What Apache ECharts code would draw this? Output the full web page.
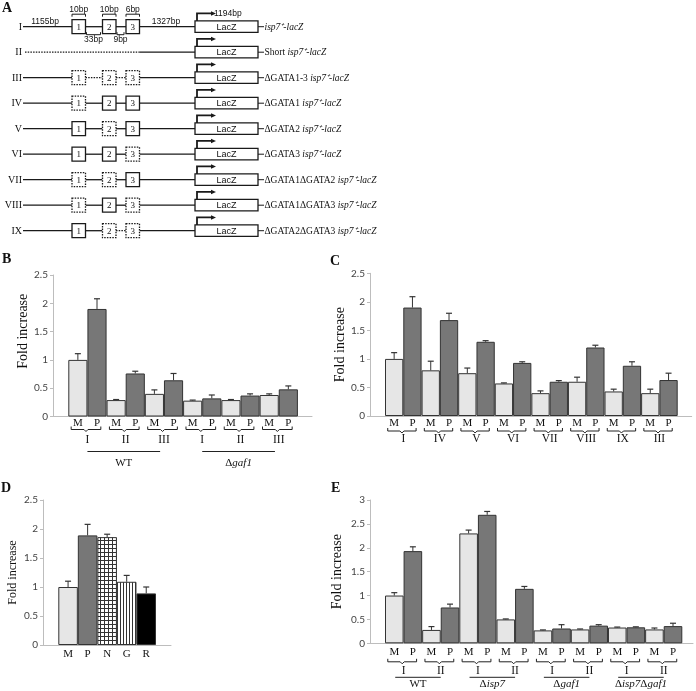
<!DOCTYPE html>
<html><head><meta charset="utf-8">
<script src="https://cdn.jsdelivr.net/npm/echarts@6/dist/echarts.min.js"></script>
<style>html,body{margin:0;padding:0;background:#fff}#c{width:696px;height:691px}</style>
</head><body><div id="c"></div>
<script>
// ---------------- DATA ----------------
// Panel A constructs
const constructNames = ['I','II','III','IV','V','VI','VII','VIII','IX'];
const constructBoxes = ['111','','000','011','101','110','001','010','100']; // 1 = GATA site present, 0 = deleted
const constructLinks = ['ss','','dd','ss','ss','ss','ss','ss','sd'];          // s = solid, d = dotted
const constructPrefix = ['','Short ','ΔGATA1-3 ','ΔGATA1 ','ΔGATA2 ','ΔGATA3 ','ΔGATA1ΔGATA2 ','ΔGATA1ΔGATA3 ','ΔGATA2ΔGATA3 '];
const reporterName = 'isp7⁺-lacZ';
const segmentLabels = ['1155bp','10bp','33bp','10bp','9bp','6bp','1327bp'];
const tssLabel = '1194bp';

// Panel B
const bPairs = ['I','II','III','I','II','III'];
const bStrains = ['WT','Δgaf1'];
const bStrainPairs = [[0,2],[3,5]];
const bM = [1.00,0.29,0.40,0.28,0.29,0.38];
const bMErr = [0.11,0.01,0.07,0.01,0.01,0.02];
const bP = [1.90,0.76,0.64,0.32,0.37,0.48];
const bPErr = [0.18,0.04,0.12,0.06,0.03,0.06];

// Panel C
const cPairs = ['I','IV','V','VI','VII','VIII','IX','III'];
const cM = [1.00,0.80,0.75,0.57,0.40,0.60,0.43,0.40];
const cMErr = [0.11,0.16,0.09,0.01,0.04,0.08,0.04,0.07];
const cP = [1.90,1.68,1.30,0.93,0.60,1.20,0.88,0.63];
const cPErr = [0.19,0.12,0.02,0.02,0.02,0.04,0.07,0.12];

// Panel D
const dCats = ['M','P','N','G','R'];
const dVals = [1.00,1.89,1.86,1.09,0.89];
const dErr = [0.10,0.19,0.05,0.11,0.11];

// Panel E
const ePairs = ['I','II','I','II','I','II','I','II'];
const eStrains = ['WT','Δisp7','Δgaf1','Δisp7Δgaf1'];
const eStrainPairs = [[0,1],[2,3],[4,5],[6,7]];
const eM = [1.00,0.28,2.30,0.50,0.27,0.29,0.33,0.29];
const eMErr = [0.06,0.07,0.07,0.01,0.01,0.01,0.01,0.03];
const eP = [1.93,0.75,2.69,1.14,0.31,0.37,0.335,0.36];
const ePErr = [0.09,0.07,0.07,0.05,0.08,0.02,0.01,0.06];

const yTicksB = 2.5, yTicksE = 3;

// ---------------- STYLE ----------------
const SERIF = '"Liberation Serif", "Times New Roman", serif';
const SANS = '"Liberation Sans", Arial, sans-serif';
const TICK = 'Lato, "Open Sans", sans-serif';
const LIGHT = '#e6e6e6', DARK = '#777777', INK = '#1a1a1a', AXIS = '#bdbdbd';

function makePattern(kind){
  const cv = document.createElement('canvas');
  const s = kind === 'grid' ? 4 : 3;
  cv.width = s; cv.height = s;
  const ctx = cv.getContext('2d');
  ctx.fillStyle = '#fff'; ctx.fillRect(0,0,s,s);
  ctx.fillStyle = '#333';
  ctx.fillRect(0,0,1,s);
  if (kind === 'grid') ctx.fillRect(0,0,s,1);
  return {image: cv, repeat: 'repeat'};
}

// ---------------- PANEL A (diagram) ----------------
const G = [];
function gLine(x1,y1,x2,y2,dash,w){
  G.push({type:'line', silent:true, shape:{x1,y1,x2,y2}, style:{stroke:INK, lineWidth:w||1.3, lineDash: dash?[1.5,1.2]:null}});
}
function gPoly(points,w){
  G.push({type:'polyline', silent:true, shape:{points}, style:{stroke:INK, fill:null, lineWidth:w||1}});
}
function gRect(x,y,w,h,dash){
  G.push({type:'rect', silent:true, shape:{x,y,width:w,height:h}, style:{fill:'#fff', stroke:INK, lineWidth:1.3, lineDash: dash?[1.5,1.2]:null}});
}
function gText(t,x,y,font,align,extra){
  G.push({type:'text', silent:true, style:Object.assign({text:t, x, y, font, align:align||'center', textAlign:align||'center', verticalAlign:'middle', textVerticalAlign:'middle', fill:'#111'}, extra||{})});
}

const rowY0 = 26.7, rowStep = 25.5, xStart = 23, lacX = 195, lacW = 63, lacH = 11.5;
const boxX = [72, 102.5, 126], boxW = 13.5, boxH = 14;

constructNames.forEach((name, r) => {
  const y = rowY0 + r*rowStep;
  gText(name, 22, y+0.5, '10px ' + SERIF, 'right');
  const boxes = constructBoxes[r];
  if (!boxes) {
    gLine(25, y, 140, y, true);
    gLine(140, y, lacX, y, false);
  } else {
    const links = constructLinks[r];
    gLine(xStart, y, boxX[0], y, false);
    gLine(boxX[0]+boxW, y, boxX[1], y, links[0]==='d');
    gLine(boxX[1]+boxW, y, boxX[2], y, links[1]==='d');
    gLine(boxX[2]+boxW, y, lacX, y, false);
    for (let b=0;b<3;b++){
      gRect(boxX[b], y-boxH/2, boxW, boxH, boxes[b]==='0');
      gText(String(b+1), boxX[b]+boxW/2, y+0.5, '9px ' + SERIF);
    }
  }
  // reporter
  gRect(lacX, y-lacH/2, lacW, lacH, false);
  gText('LacZ', lacX+lacW/2, y+0.5, '9px ' + SANS);
  const ay = y - lacH/2 - 7.5;
  gPoly([[lacX+2, y-lacH/2], [lacX+2, ay], [lacX+17, ay]], 1.8);
  G.push({type:'polygon', silent:true, shape:{points:[[lacX+21,ay],[lacX+16,ay-2.3],[lacX+16,ay+2.3]]}, style:{fill:INK}});
  gLine(lacX+lacW, y, lacX+lacW+6, y, false, 1);
  G.push({type:'text', silent:true, style:{
    text: (constructPrefix[r] ? '{n|' + constructPrefix[r] + '}' : '') + '{i|' + reporterName + '}',
    x: lacX+lacW+6.5, y: y+0.5, align:'left', textAlign:'left', verticalAlign:'middle', textVerticalAlign:'middle',
    rich: {n:{fontFamily:SERIF, fontSize:9.5, fill:'#111', color:'#111'}, i:{fontFamily:SERIF, fontSize:9.5, fontStyle:'italic', fill:'#111', color:'#111'}}
  }});
  if (r === 0) {
    const bp = '8.5px ' + SANS;
    gText(tssLabel, lacX+19, ay+0.5, bp, 'left');
    gText(segmentLabels[0], 45, y-5, bp);
    gText(segmentLabels[6], 166, y-5, bp);
    const tops = [[0,1],[1,3],[2,5]];
    tops.forEach(([b, li]) => {
      const x0 = boxX[b], x1 = boxX[b]+boxW;
      gPoly([[x0, y-boxH/2-3], [x0, y-boxH/2-5.5], [x1, y-boxH/2-5.5], [x1, y-boxH/2-3]], 1);
      gText(segmentLabels[li], (x0+x1)/2, y-boxH/2-10.5, bp);
    });
    const gaps = [[0,2],[1,4]];
    gaps.forEach(([b, li]) => {
      const x0 = boxX[b]+boxW+1, x1 = boxX[b+1]-2;
      gPoly([[x0, y+5.5], [x0, y+8], [x1, y+8], [x1, y+5.5]], 1);
      gText(segmentLabels[li], (x0+x1)/2, y+12.5, bp);
    });
  }
});

// panel letters
[['A',2,8],['B',2,259],['C',330,261],['D',1,488],['E',331,488]].forEach(([t,x,y]) => {
  gText(t, x, y, 'bold 14px ' + SERIF, 'left');
});

// ---------------- BAR PANELS ----------------
const grids=[], xAxes=[], yAxes=[], series=[];

function richLabel(s){
  if (s.indexOf('Δ') < 0) return '{n|' + s + '}';
  return s.split('Δ').filter(p => p.length).map(p => '{n|Δ}{i|' + p + '}').join('');
}
const RICH = {
  n:{fontFamily:SERIF, fontSize:11, fill:'#111', color:'#111'},
  i:{fontFamily:SERIF, fontSize:11, fontStyle:'italic', fill:'#111', color:'#111'}
};

function errRender(params, api){
  const i = api.value(0), v = api.value(1), e = api.value(2);
  const b = api.coord([i, v]), t = api.coord([i, v+e]);
  return {type:'group', children:[
    {type:'line', shape:{x1:b[0], y1:b[1], x2:t[0], y2:t[1]}, style:{stroke:'#333', lineWidth:1}},
    {type:'line', shape:{x1:t[0]-3, y1:t[1], x2:t[0]+3, y2:t[1]}, style:{stroke:'#333', lineWidth:1.2}}
  ]};
}

function addPanel(cfg){
  const go = grids.length;
  grids.push({left:cfg.axL, top:cfg.top, width:cfg.axW, height:cfg.h});
  grids.push({left:cfg.barL, top:cfg.top, width:cfg.barW, height:cfg.h});
  const gi = go + 1;
  const xo = xAxes.length;
  xAxes.push({gridIndex:go, type:'value', min:0, max:1, axisLine:{show:true, lineStyle:{color:AXIS, width:1}}, axisTick:{show:false}, axisLabel:{show:false}, splitLine:{show:false}});
  xAxes.push({gridIndex:gi, type:'category', data:cfg.cats, axisLine:{show:false}, axisTick:{show:false},
    axisLabel:{interval:0, margin:cfg.labelMargin, fontFamily:SERIF, fontSize:11, color:'#111'}});
  const xi = xo + 1;
  const yo = yAxes.length;
  yAxes.push({gridIndex:go, type:'value', min:0, max:cfg.yMax, interval:0.5,
    name:'Fold increase', nameLocation:'middle', nameGap:cfg.nameGap,
    nameTextStyle:{fontFamily:SERIF, fontSize:cfg.nameSize, color:'#111', padding:cfg.namePad||0},
    axisLine:{show:true, lineStyle:{color:AXIS, width:1}}, axisTick:{show:true, length:3, lineStyle:{color:AXIS}},
    axisLabel:{fontFamily:TICK, fontSize:10, color:'#444', margin:5}, splitLine:{show:false}});
  yAxes.push({gridIndex:gi, type:'value', min:0, max:cfg.yMax, show:false});
  const yi = yo + 1;
  series.push({type:'bar', xAxisIndex:xi, yAxisIndex:yi, barCategoryGap:'0%', silent:true,
    data: cfg.values.map((v,i) => ({value:v, itemStyle:{color:cfg.colors[i]}})),
    itemStyle:{borderColor:'#333', borderWidth:1}});
  series.push({type:'custom', xAxisIndex:xi, yAxisIndex:yi, silent:true, z:5,
    data: cfg.values.map((v,i) => [i, v, cfg.errs[i]]), renderItem: errRender});
  if (cfg.pairs) {
    const off = cfg.off;
    series.push({type:'custom', xAxisIndex:xi, yAxisIndex:yi, silent:true, clip:false, z:5,
      data: cfg.pairs.map((p,k) => [2*k, 0]),
      renderItem: (params, api) => {
        const k = params.dataIndex, i = api.value(0);
        const c0 = api.coord([i,0]), c1 = api.coord([i+1,0]);
        const w = c1[0]-c0[0];
        const L = c0[0]-w/2+0.15*w, R = c1[0]+w/2-0.3*w, C = (L+R)/2, y = c0[1]+off.bracket;
        return {type:'group', children:[
          {type:'polyline', shape:{points:[[L,y-3],[L,y],[C-2,y],[C,y+2],[C+2,y],[R,y],[R,y-3]]}, style:{stroke:'#222', fill:null, lineWidth:1}},
          {type:'text', style:{text:cfg.pairs[k], x:(c0[0]+c1[0])/2, y:c0[1]+off.numeral, fontFamily:SERIF, fontSize:11.5, fill:'#111', align:'center', verticalAlign:'middle'}}
        ]};
      }});
  }
  if (cfg.strains) {
    const off = cfg.off;
    series.push({type:'custom', xAxisIndex:xi, yAxisIndex:yi, silent:true, clip:false, z:5,
      data: cfg.strainPairs.map(sp => [2*sp[0], 2*sp[1]]),
      renderItem: (params, api) => {
        const k = params.dataIndex;
        const a0 = api.coord([api.value(0),0]), a1 = api.coord([api.value(0)+1,0]);
        const b0 = api.coord([api.value(1),0]), b1 = api.coord([api.value(1)+1,0]);
        const w = a1[0]-a0[0];
        const x1 = (a0[0]+a1[0])/2 + off.padL*w, x2 = (b0[0]+b1[0])/2 + off.padR*w;
        const y = a0[1] + off.under;
        return {type:'group', children:[
          {type:'line', shape:{x1, y1:y, x2, y2:y}, style:{stroke:'#222', lineWidth:1}},
          {type:'text', style:{text:richLabel(cfg.strains[k]), rich:RICH, x:(x1+x2)/2, y:a0[1]+off.label, align:'center', verticalAlign:'middle'}}
        ]};
      }});
  }
}

function interleave(a, b){ const out=[]; a.forEach((v,i)=>{out.push(v); out.push(b[i]);}); return out; }
function mpCats(n){ const out=[]; for(let i=0;i<n;i++){out.push('M'); out.push('P');} return out; }
function mpColors(n){ const out=[]; for(let i=0;i<n;i++){out.push(LIGHT); out.push(DARK);} return out; }

addPanel({axL:53, axW:259, barL:68.3, barW:229.6, top:275, h:141.5, yMax:yTicksB,
  cats:mpCats(bPairs.length), values:interleave(bM,bP), errs:interleave(bMErr,bPErr), colors:mpColors(bPairs.length),
  labelMargin:1, nameGap:21, nameSize:14, namePad:[0,0,0,29],
  pairs:bPairs, strains:bStrains, strainPairs:bStrainPairs,
  off:{bracket:13, numeral:23.5, under:35, label:47, padL:0, padR:-0.2}});

addPanel({axL:370, axW:321.7, barL:385, barW:292.7, top:273.3, h:142.7, yMax:yTicksB,
  cats:mpCats(cPairs.length), values:interleave(cM,cP), errs:interleave(cMErr,cPErr), colors:mpColors(cPairs.length),
  labelMargin:1.5, nameGap:20.5, nameSize:14,
  pairs:cPairs, off:{bracket:15, numeral:22.5}});

addPanel({axL:43, axW:128, barL:58.3, barW:97.7, top:500, h:145, yMax:yTicksB,
  cats:dCats, values:dVals, errs:dErr, colors:[LIGHT, DARK, makePattern('grid'), makePattern('stripe'), '#000'],
  labelMargin:4, nameGap:24.5, nameSize:12});

addPanel({axL:370, axW:323, barL:385, barW:297.3, top:500, h:143.3, yMax:yTicksE,
  cats:mpCats(ePairs.length), values:interleave(eM,eP), errs:interleave(eMErr,ePErr), colors:mpColors(ePairs.length),
  labelMargin:3.6, nameGap:25.5, nameSize:14,
  pairs:ePairs, strains:eStrains, strainPairs:eStrainPairs,
  off:{bracket:18.5, numeral:27.5, under:34, label:40.5, padL:-0.45, padR:0}});

const chart = echarts.init(document.getElementById('c'), null, {renderer:'canvas', width:696, height:691});
chart.setOption({
  animation:false,
  backgroundColor:'#fff',
  grid:grids, xAxis:xAxes, yAxis:yAxes, series:series,
  graphic:{elements:G}
});
</script></body></html>
